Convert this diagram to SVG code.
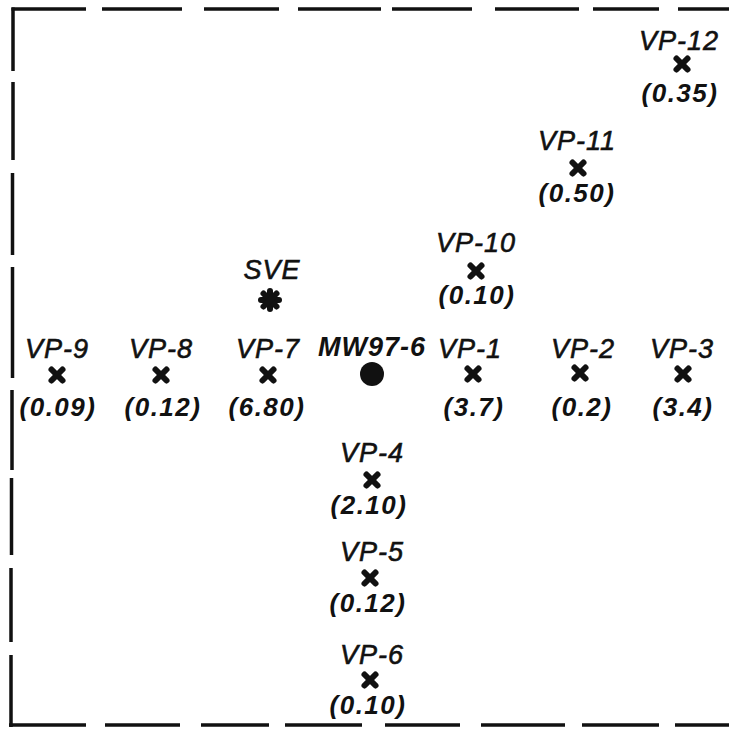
<svg xmlns="http://www.w3.org/2000/svg" width="729" height="730" viewBox="0 0 729 730">
<defs>
<style>
.frame{stroke:#111;stroke-width:3.5;fill:none;stroke-linecap:butt}
.lbl{font-family:"Liberation Sans",Arial,sans-serif;font-style:italic;font-size:27px;letter-spacing:1px;text-anchor:middle;fill:#111;stroke:#111;stroke-width:0.6}
.val{font-family:"Liberation Sans",Arial,sans-serif;font-style:italic;font-weight:bold;font-size:26px;letter-spacing:1.5px;text-anchor:middle;fill:#111}
.bold{font-weight:bold;stroke-width:0;letter-spacing:1px}
.x{stroke:#111;stroke-width:6;stroke-linecap:round}
</style>
<g id="xmark"><line class="x" x1="-5.5" y1="-5.5" x2="5.5" y2="5.5"/><line class="x" x1="-5.5" y1="5.5" x2="5.5" y2="-5.5"/></g>
</defs>
<rect width="729" height="730" fill="#fff"/>
<g id="frame" class="frame">
<path d="M11.5 9H86M102 9H182M204 9H279M298 9H381M392 9H472M495 9H579M593 9H659M678 9H729"/>
<path d="M9 725H86M105 725H180M201 725H269M285 725H362M385 725H460M481 725H565M582 725H659M675 725H729"/>
<path d="M13 7.5V71M13 82V160M12.5 173V255M12.5 267V378M12 390V470M11.5 478V555M11 568V642M11 655V727"/>
</g>
<g id="connectors"/>
<g id="VP-12"><text class="lbl" x="679" y="50">VP-12</text><use href="#xmark" x="682" y="64"/><text class="val" x="680" y="102">(0.35)</text></g>
<g id="VP-11"><text class="lbl" x="577" y="150">VP-11</text><use href="#xmark" x="578" y="168"/><text class="val" x="577" y="202">(0.50)</text></g>
<g id="VP-10"><text class="lbl" x="476" y="252">VP-10</text><use href="#xmark" x="476" y="271"/><text class="val" x="477" y="304">(0.10)</text></g>
<g id="SVE"><text class="lbl" x="272" y="279">SVE</text>
<g transform="translate(270 300)" class="x" stroke-width="5"><line x1="0" y1="-9" x2="0" y2="9"/><line x1="-9" y1="0" x2="9" y2="0"/><line x1="-6.5" y1="-6.5" x2="6.5" y2="6.5"/><line x1="-6.5" y1="6.5" x2="6.5" y2="-6.5"/></g></g>
<g id="VP-9"><text class="lbl" x="57" y="358">VP-9</text><use href="#xmark" x="57" y="375"/><text class="val" x="58" y="416">(0.09)</text></g>
<g id="VP-8"><text class="lbl" x="161" y="358">VP-8</text><use href="#xmark" x="161" y="375"/><text class="val" x="163" y="416">(0.12)</text></g>
<g id="VP-7"><text class="lbl" x="268" y="358">VP-7</text><use href="#xmark" x="268" y="375"/><text class="val" x="267" y="416">(6.80)</text></g>
<g id="MW97-6"><text class="lbl bold" x="372" y="356">MW97-6</text><circle cx="372" cy="374" r="12" fill="#111"/></g>
<g id="VP-1"><text class="lbl" x="470" y="358">VP-1</text><use href="#xmark" x="473" y="374"/><text class="val" x="474" y="416">(3.7)</text></g>
<g id="VP-2"><text class="lbl" x="583" y="358">VP-2</text><use href="#xmark" x="580" y="373"/><text class="val" x="582" y="416">(0.2)</text></g>
<g id="VP-3"><text class="lbl" x="682" y="358">VP-3</text><use href="#xmark" x="683" y="374"/><text class="val" x="683" y="416">(3.4)</text></g>
<g id="VP-4"><text class="lbl" x="372" y="462">VP-4</text><use href="#xmark" x="372" y="480"/><text class="val" x="369" y="514">(2.10)</text></g>
<g id="VP-5"><text class="lbl" x="372" y="561">VP-5</text><use href="#xmark" x="370" y="578"/><text class="val" x="368" y="612">(0.12)</text></g>
<g id="VP-6"><text class="lbl" x="372" y="664">VP-6</text><use href="#xmark" x="370" y="680"/><text class="val" x="368" y="714">(0.10)</text></g>
</svg>
